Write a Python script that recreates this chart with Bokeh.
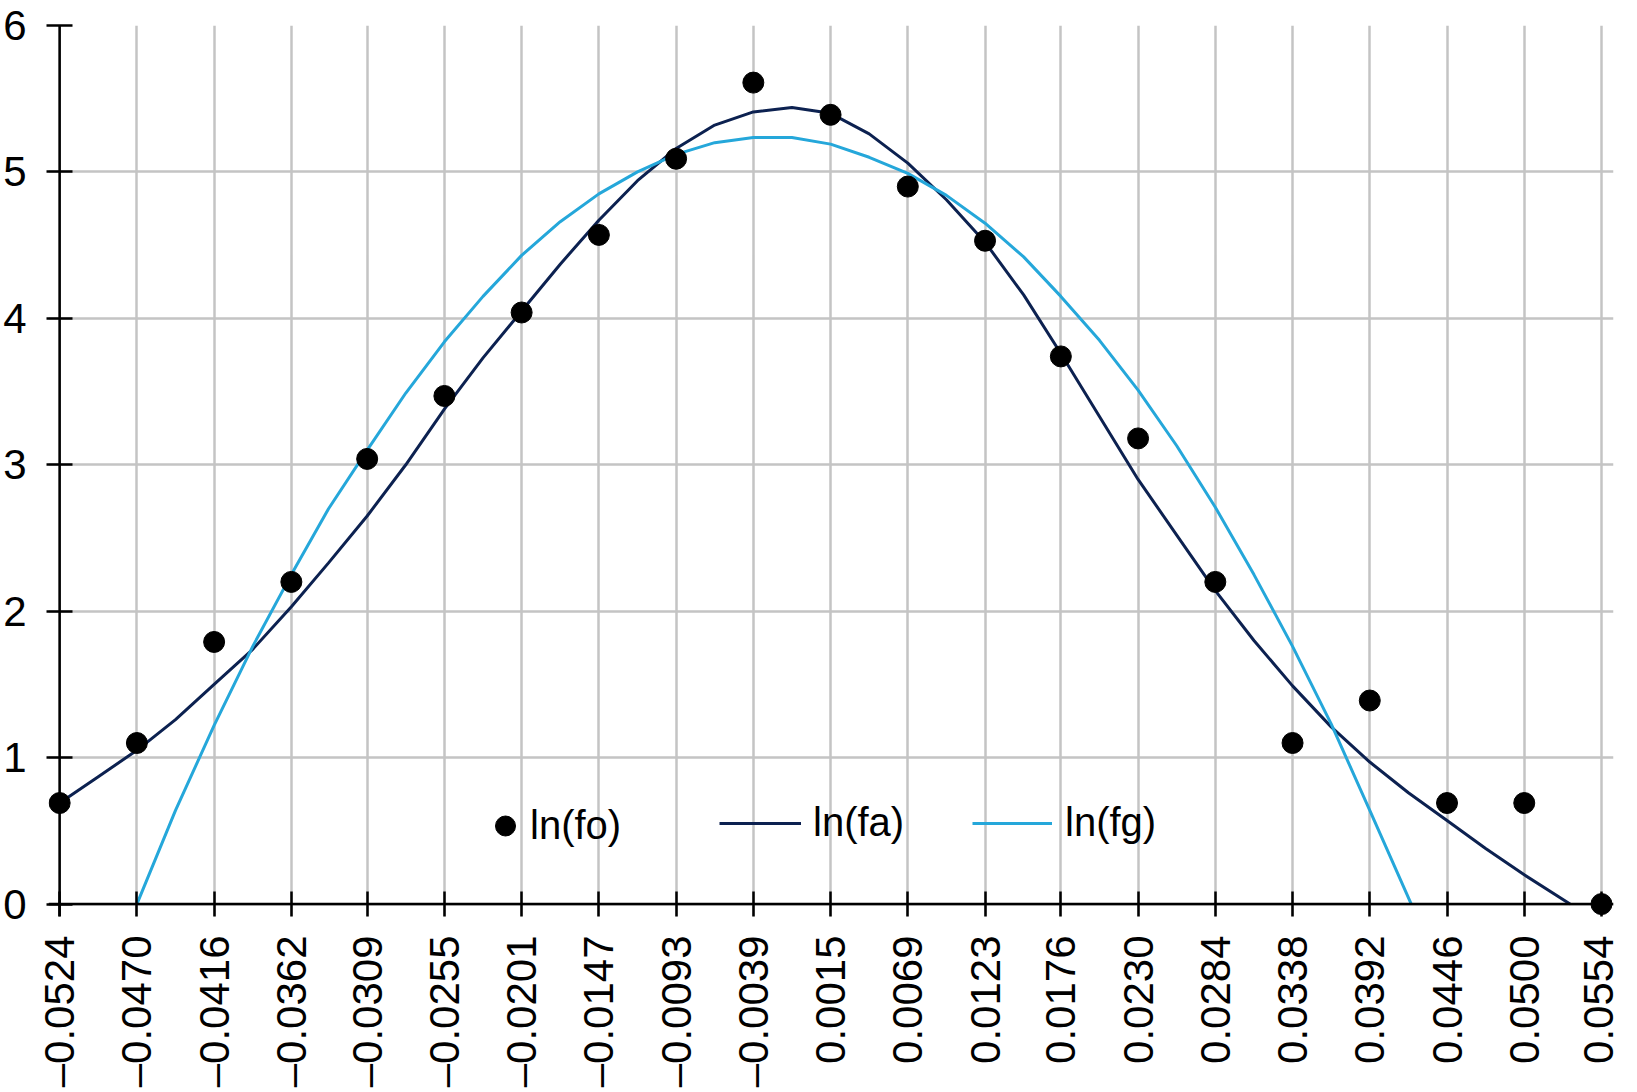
import math
from bokeh.plotting import figure
from bokeh.models import Range1d, FixedTicker, Legend, LegendItem, Span
from bokeh.embed import file_html
from bokeh.resources import INLINE

# ---- data ----
x_ticks = [-0.0524, -0.0470, -0.0416, -0.0362, -0.0309, -0.0255, -0.0201, -0.0147,
           -0.0093, -0.0039, 0.0015, 0.0069, 0.0123, 0.0176, 0.0230, 0.0284,
           0.0338, 0.0392, 0.0446, 0.0500, 0.0554]
x_tick_labels = ["–0.0524", "–0.0470", "–0.0416", "–0.0362", "–0.0309", "–0.0255",
                 "–0.0201", "–0.0147", "–0.0093", "–0.0039", "0.0015", "0.0069",
                 "0.0123", "0.0176", "0.0230", "0.0284", "0.0338", "0.0392",
                 "0.0446", "0.0500", "0.0554"]
y_ticks = [0, 1, 2, 3, 4, 5, 6]

ln_fo = [0.69, 1.10, 1.79, 2.20, 3.04, 3.47, 4.04, 4.57, 5.09, 5.61, 5.39,
         4.90, 4.53, 3.74, 3.18, 2.20, 1.10, 1.39, 0.69, 0.69, 0.0]

fa_x = [-0.0524, -0.0497, -0.0470, -0.0443, -0.0416, -0.0389, -0.0362, -0.0336,
        -0.0309, -0.0282, -0.0255, -0.0228, -0.0201, -0.0174, -0.0147, -0.0120,
        -0.0093, -0.0066, -0.0039, -0.0012, 0.0015, 0.0042, 0.0069, 0.0096,
        0.0123, 0.0150, 0.0176, 0.0203, 0.0230, 0.0257, 0.0284, 0.0311,
        0.0338, 0.0365, 0.0392, 0.0419, 0.0446, 0.0473, 0.0500, 0.0532]
ln_fa = [0.69, 0.87, 1.05, 1.26, 1.50, 1.74, 2.03, 2.33, 2.65, 3.00, 3.38, 3.73,
         4.05, 4.37, 4.67, 4.94, 5.16, 5.32, 5.41, 5.44, 5.40, 5.26, 5.06, 4.81,
         4.52, 4.16, 3.76, 3.33, 2.90, 2.52, 2.14, 1.80, 1.49, 1.21, 0.97, 0.76,
         0.57, 0.38, 0.20, 0.0]

fg_x = [-0.0470, -0.0443, -0.0416, -0.0389, -0.0362, -0.0336, -0.0309, -0.0282,
        -0.0255, -0.0228, -0.0201, -0.0174, -0.0147, -0.0120, -0.0093, -0.0066,
        -0.0039, -0.0012, 0.0015, 0.0042, 0.0069, 0.0096, 0.0123, 0.0150,
        0.0176, 0.0203, 0.0230, 0.0257, 0.0284, 0.0311, 0.0338, 0.0365,
        0.0392, 0.0421]
ln_fg = [0.0, 0.64, 1.22, 1.76, 2.25, 2.70, 3.10, 3.49, 3.84, 4.15, 4.43, 4.66,
         4.85, 5.00, 5.12, 5.20, 5.235, 5.235, 5.19, 5.10, 4.99, 4.84, 4.65, 4.42,
         4.15, 3.85, 3.51, 3.13, 2.71, 2.25, 1.76, 1.23, 0.64, 0.0]

NAVY = "#0c2150"
LIGHT = "#25a7da"
GRID = "#c4c4c4"
FONT = "Liberation Sans"

p = figure(width=1621, height=1090, output_backend="svg", toolbar_location=None,
           x_range=Range1d(-0.05318, 0.05624), y_range=Range1d(-0.085, 6.0),
           min_border_left=46, min_border_right=8, min_border_top=25,
           min_border_bottom=166)
p.outline_line_color = None
p.background_fill_color = "white"

# axes (labels + ticks at frame edges; ticks reach across the axis lines)
p.xaxis.ticker = FixedTicker(ticks=x_ticks)
p.yaxis.ticker = FixedTicker(ticks=y_ticks)
p.xaxis.major_label_overrides = {t: l for t, l in zip(x_ticks, x_tick_labels)}
p.xaxis.major_label_orientation = math.pi / 2
for ax in (p.xaxis, p.yaxis):
    ax.axis_line_color = None
    ax.major_tick_line_color = "black"
    ax.major_tick_line_width = 2.5
    ax.minor_tick_line_color = None
    ax.major_label_text_font = FONT
    ax.major_label_text_font_size = "42px"
    ax.major_label_text_color = "black"
p.xaxis.major_tick_in = 25
p.xaxis.major_tick_out = 0
p.xaxis.major_label_standoff = 19
p.yaxis.major_tick_in = 24
p.yaxis.major_tick_out = 2
p.yaxis.major_label_standoff = 20

p.xgrid.grid_line_color = GRID
p.ygrid.grid_line_color = GRID
p.xgrid.grid_line_width = 2.5
p.ygrid.grid_line_width = 2.5

# axis lines at x = first category and y = 0
p.add_layout(Span(location=x_ticks[0], dimension="height", line_color="black", line_width=2.5))
p.add_layout(Span(location=y_ticks[0], dimension="width", line_color="black", line_width=2.5))

# series
r_fa = p.line(fa_x, ln_fa, line_color=NAVY, line_width=3)
r_fg = p.line(fg_x, ln_fg, line_color=LIGHT, line_width=3)
r_fo = p.scatter(x_ticks, ln_fo, size=21, color="black")

def make_legend(label, rend, loc, gw, gh, standoff):
    lg = Legend(items=[LegendItem(label=label, renderers=[rend])], location=loc,
                glyph_width=gw, glyph_height=gh, label_height=40,
                label_standoff=standoff, padding=0, margin=0, spacing=0,
                border_line_color=None, background_fill_alpha=0,
                label_text_font=FONT, label_text_font_size="40px",
                label_text_color="black")
    p.add_layout(lg, "center")

make_legend("ln(fo)", r_fo, (432, 64), 50, 53, 0)
make_legend("ln(fa)", r_fa, (671, 71), 82, 40, 12)
make_legend("ln(fg)", r_fg, (924, 71), 80, 40, 13)

open("out.html", "w").write(file_html(p, INLINE))
